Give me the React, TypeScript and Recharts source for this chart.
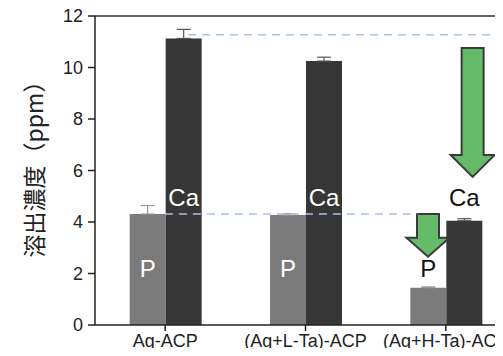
import React from 'react';
import {
  BarChart,
  Bar,
  XAxis,
  YAxis,
  ErrorBar,
  LabelList,
  ReferenceLine,
  ReferenceArea,
} from 'recharts';

const categories = ['Ag-ACP', '(Ag+L-Ta)-ACP', '(Ag+H-Ta)-ACP'];
const pValues = [4.31, 4.27, 1.45];
const pErrors = [0.33, 0.05, 0.03];
const caValues = [11.13, 10.25, 4.05];
const caErrors = [0.35, 0.15, 0.08];
const pLabelLevels = [2.2, 2.2, 2.2];
const caLabelLevels = [4.97, 4.97, 4.97];
const yTicks = [0, 2, 4, 6, 8, 10, 12];
const refLevels = [11.27, 4.31];
const bigArrow = [5.75, 10.76];
const smallArrow = [2.65, 4.31];

// only the upper half of each error bar shows above the bar
const data = categories.map((name, i) => ({
  name,
  P: pValues[i],
  pErr: [0, pErrors[i]],
  Ca: caValues[i],
  caErr: [0, caErrors[i]],
}));

const FONT = '"Liberation Sans", Arial, sans-serif';
const GREEN = '#66bb6a';

// label inside the bar (white) or above it (black) depending on where the level falls
const barLabel = (text: string, levels: number[]) => (props: any) => {
  const { x, y, width, height, index, value } = props;
  const level = levels[index];
  const bottom = y + height;
  const ly = bottom - (height * level) / value;
  const inside = level < value;
  return (
    <text
      x={x + width / 2}
      y={ly}
      textAnchor="middle"
      dominantBaseline="central"
      fill={inside ? '#ffffff' : '#111111'}
      fontSize={24}
      fontFamily={FONT}
    >
      {text}
    </text>
  );
};

const dashed = (from: number, to: number) => (props: any) => {
  const { x1, x2, y1 } = props;
  const w = x2 - x1;
  return (
    <line
      x1={x1 + w * from}
      x2={x1 + w * to}
      y1={y1}
      y2={y1}
      stroke="#a9c1e8"
      strokeWidth={1.6}
      strokeDasharray="8 6"
    />
  );
};

const arrow = (cx: number, shaftW: number, headW: number, headH: number) => (props: any) => {
  const { x, y, width, height } = props;
  const c = x + width * cx;
  const top = y;
  const tip = y + height;
  const hs = tip - headH;
  const pts = [
    [c - shaftW / 2, top],
    [c + shaftW / 2, top],
    [c + shaftW / 2, hs],
    [c + headW / 2, hs],
    [c, tip],
    [c - headW / 2, hs],
    [c - shaftW / 2, hs],
  ]
    .map((p) => p.join(','))
    .join(' ');
  return <polygon points={pts} fill={GREEN} stroke="#3a3a3a" strokeWidth={2} strokeLinejoin="miter" />;
};

const YLabel = (props: any) => {
  const { viewBox } = props;
  const cx = viewBox.x + 33;
  const cy = viewBox.y + viewBox.height / 2 - 7;
  return (
    <text
      x={cx}
      y={cy}
      transform={`rotate(-90, ${cx}, ${cy})`}
      textAnchor="middle"
      dominantBaseline="central"
      fontSize={23}
      fill="#222"
      fontFamily={'"Noto Sans CJK JP", ' + FONT}
    >
      溶出濃度（ppm）
    </text>
  );
};

// category label, baseline a fixed gap under the tick
const XTick = (props: any) => {
  const { x, y, payload } = props;
  return (
    <text x={x} y={y + 16} textAnchor="middle" fontSize={18} fill="#222" fontFamily={FONT}>
      {payload.value}
    </text>
  );
};

export default function App() {
  return (
    <div style={{ margin: -8, width: 503, height: 356, overflow: 'hidden', background: '#fff' }}>
      <BarChart
        width={540}
        height={356}
        data={data}
        margin={{ top: 16, right: 24, bottom: 0, left: 0 }}
        barGap={0}
        barCategoryGap="24.7%"
      >
        <XAxis
          dataKey="name"
          height={31}
          tickSize={6}
          tickMargin={0}
          stroke="#222"
          strokeWidth={1.5}
          tick={<XTick />}
          interval={0}
        />
        <YAxis
          width={95}
          domain={[0, 12]}
          ticks={yTicks}
          tickSize={7}
          tickMargin={5}
          stroke="#222"
          strokeWidth={1.5}
          tick={{ fontSize: 18, fill: '#222', fontFamily: FONT }}
          label={<YLabel />}
        />
        <ReferenceLine y={12} stroke="#333" strokeWidth={1.5} />
        <Bar dataKey="P" fill="#7b7b7b" isAnimationActive={false}>
          <ErrorBar dataKey="pErr" width={7} stroke="#9a9a9a" strokeWidth={1.2} direction="y" />
          <LabelList dataKey="P" content={barLabel('P', pLabelLevels)} />
        </Bar>
        <Bar dataKey="Ca" fill="#363636" isAnimationActive={false}>
          <ErrorBar dataKey="caErr" width={7} stroke="#555" strokeWidth={1.2} direction="y" />
          <LabelList dataKey="Ca" content={barLabel('Ca', caLabelLevels)} />
        </Bar>
        <ReferenceLine y={refLevels[0]} shape={dashed(0.221, 1)} />
        <ReferenceLine y={refLevels[1]} shape={dashed(0.166, 0.766)} />
        <ReferenceArea y1={bigArrow[0]} y2={bigArrow[1]} shape={arrow(0.897, 22, 44, 22)} />
        <ReferenceArea y1={smallArrow[0]} y2={smallArrow[1]} shape={arrow(0.791, 22, 43, 19)} />
      </BarChart>
    </div>
  );
}
